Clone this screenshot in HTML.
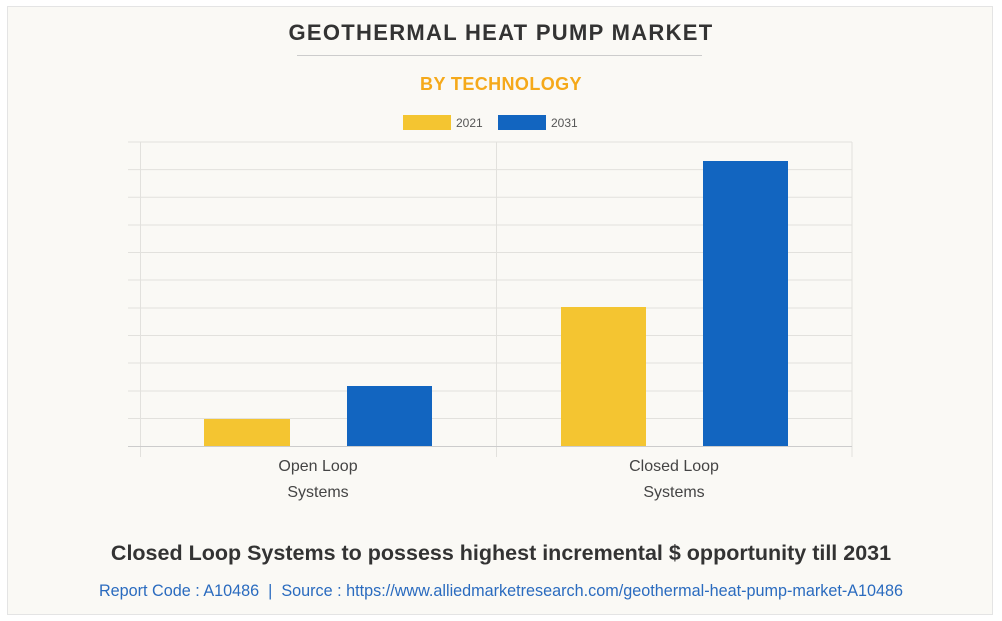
<!DOCTYPE html>
<html><head><style>
body{margin:0;width:1002px;height:621px;background:#fff;font-family:"Liberation Sans",sans-serif;overflow:hidden}
.card{position:absolute;left:7px;top:6px;width:984px;height:607px;background:#faf9f5;border:1px solid #e4e4e4}
.t{position:absolute;width:1002px;text-align:center;left:0;white-space:nowrap}
</style></head><body>
<div class="card"></div>
<div class="t" style="top:20px;font-size:22px;font-weight:bold;color:#333;letter-spacing:1.3px">GEOTHERMAL HEAT PUMP MARKET</div>
<div style="position:absolute;left:297px;top:55px;width:405px;height:1px;background:#ccc"></div>
<div class="t" style="top:74px;font-size:18px;font-weight:bold;color:#f5a91a;letter-spacing:0.4px">BY TECHNOLOGY</div>
<svg style="position:absolute;left:0;top:0" width="1002" height="621">
<rect x="403" y="115" width="48" height="15" fill="#f4c531"/>
<text x="456" y="127" font-size="12" fill="#555" font-family="Liberation Sans">2021</text>
<rect x="498" y="115" width="48" height="15" fill="#1265c0"/>
<text x="551" y="127" font-size="12" fill="#555" font-family="Liberation Sans">2031</text>
<g stroke="#e2e1dd" stroke-width="1">
<line x1="128" x2="852" y1="142" y2="142"/><line x1="128" x2="852" y1="169.6" y2="169.6"/>
<line x1="128" x2="852" y1="197.3" y2="197.3"/><line x1="128" x2="852" y1="225" y2="225"/>
<line x1="128" x2="852" y1="252.5" y2="252.5"/><line x1="128" x2="852" y1="280" y2="280"/>
<line x1="128" x2="852" y1="308" y2="308"/><line x1="128" x2="852" y1="335.5" y2="335.5"/>
<line x1="128" x2="852" y1="363" y2="363"/><line x1="128" x2="852" y1="391" y2="391"/>
<line x1="128" x2="852" y1="418.5" y2="418.5"/>
<line x1="140.5" x2="140.5" y1="142" y2="457"/><line x1="496.5" x2="496.5" y1="142" y2="457"/>
<line x1="852" x2="852" y1="142" y2="457"/>
</g>
<line x1="128" x2="852" y1="446.5" y2="446.5" stroke="#ccc"/>
<rect x="204" y="419" width="86" height="27" fill="#f4c531"/>
<rect x="347" y="386" width="85" height="60" fill="#1265c0"/>
<rect x="561" y="307" width="85" height="139" fill="#f4c531"/>
<rect x="703" y="161" width="85" height="285" fill="#1265c0"/>
<g font-family="Liberation Sans" font-size="16" fill="#444" text-anchor="middle">
<text x="318" y="471">Open Loop</text><text x="318" y="497">Systems</text>
<text x="674" y="471">Closed Loop</text><text x="674" y="497">Systems</text>
</g>
</svg>
<div class="t" style="top:541px;font-size:21.5px;font-weight:bold;color:#333">Closed Loop Systems to possess highest incremental $ opportunity till 2031</div>
<div class="t" style="top:582px;font-size:16.2px;color:#2a6bbf">Report Code : A10486 &nbsp;|&nbsp; Source : https://www.alliedmarketresearch.com/geothermal-heat-pump-market-A10486</div>
</body></html>
